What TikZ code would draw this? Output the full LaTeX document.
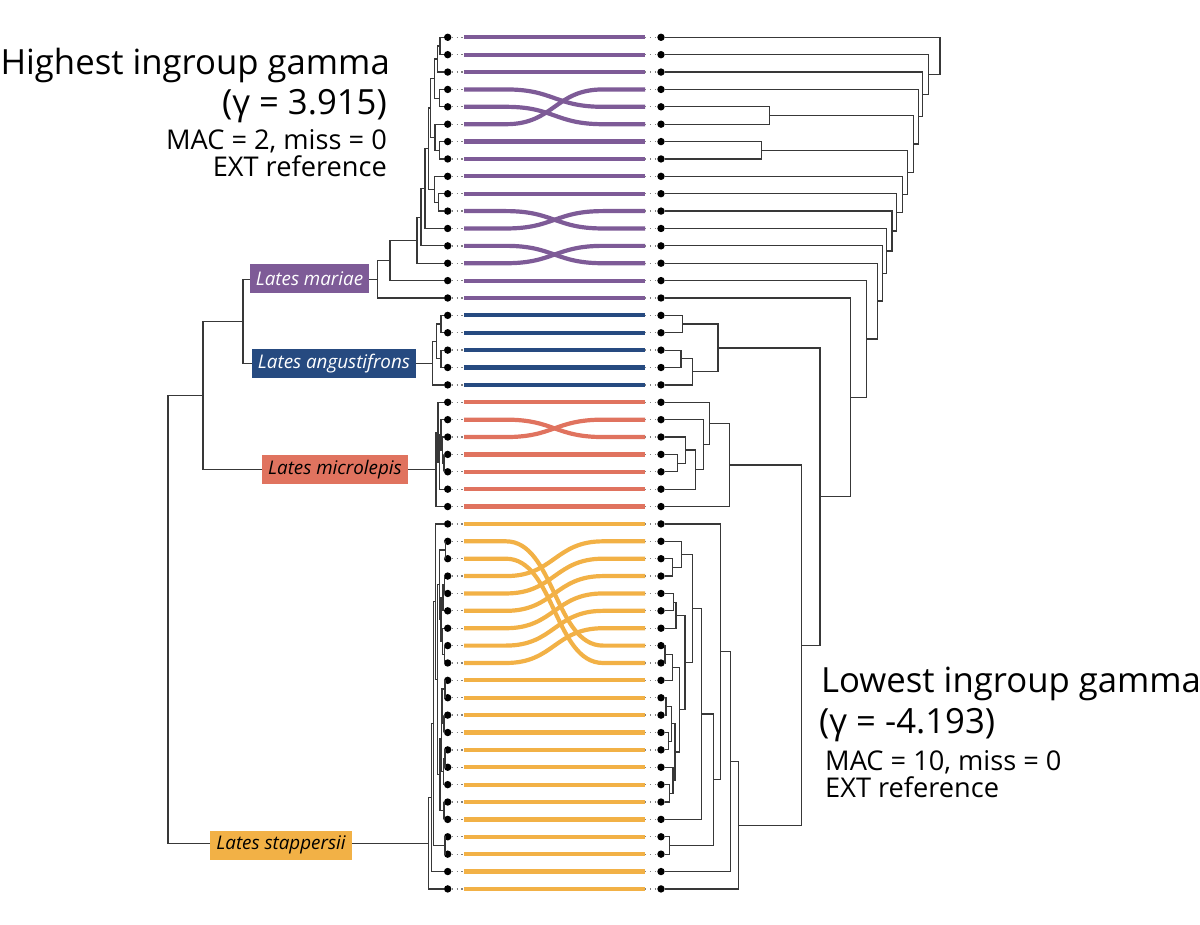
\documentclass[tikz,border=0pt]{standalone}
\usepackage{fontspec}
\setmainfont{Open Sans}
\usetikzlibrary{calc, positioning}
\definecolor{cpurple}{HTML}{7E5B97}
\definecolor{cblue}{HTML}{264A80}
\definecolor{cred}{HTML}{E0735F}
\definecolor{cyellow}{HTML}{F2B146}
\definecolor{cline}{HTML}{383838}
\tikzset{
  branch/.style={draw=cline, line width=1.2pt},
  tipdot/.style={circle, fill=black, inner sep=0pt, minimum size=7.4pt},
  tangle/.style={draw=#1, line width=4.2pt},
  linkdots/.style={draw=gray, line width=1.3pt, dash pattern=on 1.3pt off 3.6pt},
  clade/.style={fill=#1, text=white, font=\fontsize{18.8}{22}\selectfont\itshape, inner xsep=6pt, minimum height=29pt},
  headline/.style={font=\fontsize{34.7}{40}\selectfont, inner sep=0pt},
  subline/.style={font=\fontsize{27.2}{28}\selectfont, inner sep=0pt, text height=0.74em, text depth=0.12em},
}
% elbow join of two children at a given x
\newcommand\treejoin[4]{%
  \coordinate (jm) at ($(#3)!.5!(#4)$);
  \coordinate (jx) at (#2,0);
  \coordinate (#1) at (jx |- jm);
  \draw[branch] (#3) -| (#1) |- (#4);}

\begin{document}
\begin{tikzpicture}[x=1pt, y=-1pt]
  \useasboundingbox (0,0) rectangle (1200,925);
  % tips on both sides
  \foreach \i in {0,...,49} {
    \pgfmathsetmacro\ry{37.3+17.38*\i}
    \node[tipdot] (L\i) at (447.7,\ry) {};
    \node[tipdot] (R\i) at (661,\ry) {};
    \coordinate (Ta\i) at (464,\ry);
    \coordinate (Tb\i) at (645,\ry);
  }
  % tangle lines
  \foreach \i/\j/\c in {0/0/cpurple, 1/1/cpurple, 2/2/cpurple, 3/4/cpurple, 4/5/cpurple, 5/3/cpurple,
      6/6/cpurple, 7/7/cpurple, 8/8/cpurple, 9/9/cpurple, 10/11/cpurple, 11/10/cpurple, 12/13/cpurple,
      13/12/cpurple, 14/14/cpurple, 15/15/cpurple,
      16/16/cblue, 17/17/cblue, 18/18/cblue, 19/19/cblue, 20/20/cblue,
      21/21/cred, 22/23/cred, 23/22/cred, 24/24/cred, 25/25/cred, 26/26/cred, 27/27/cred,
      28/28/cyellow, 29/35/cyellow, 30/36/cyellow, 31/29/cyellow, 32/30/cyellow, 33/31/cyellow,
      34/32/cyellow, 35/33/cyellow, 36/34/cyellow, 37/37/cyellow, 38/38/cyellow, 39/39/cyellow,
      40/40/cyellow, 41/41/cyellow, 42/42/cyellow, 43/43/cyellow, 44/44/cyellow, 45/45/cyellow,
      46/46/cyellow, 47/47/cyellow, 48/48/cyellow, 49/49/cyellow} {
    \draw[linkdots] (L\i) -- (Ta\i);
    \draw[linkdots] (Tb\j) -- (R\j);
    \draw[tangle=\c] (Ta\i) -- ++(42,0) .. controls +(48,0) and +(-48,0) .. ($(Tb\j)+(-42,0)$) -- (Tb\j);
  }
  % left tree: mariae
  \treejoin{p01}{440}{L0}{L1}
  \treejoin{p012}{437.3}{p01}{L2}
  \treejoin{p34}{439.3}{L3}{L4}
  \treejoin{pA}{434.3}{p012}{p34}
  \treejoin{p67}{439.3}{L6}{L7}
  \treejoin{p567}{435}{L5}{p67}
  \treejoin{pB}{430.7}{pA}{p567}
  \treejoin{p910}{438.3}{L9}{L10}
  \treejoin{p8910}{434.3}{L8}{p910}
  \treejoin{pC}{428.3}{pB}{p8910}
  \treejoin{pD}{425}{pC}{L11}
  \treejoin{pE}{421}{pD}{L12}
  \treejoin{pF}{417}{pE}{L13}
  \treejoin{pG}{390}{pF}{L14}
  \treejoin{mar}{377.7}{pG}{L15}
  % angustifrons
  \treejoin{b01}{441}{L16}{L17}
  \treejoin{b23}{441}{L18}{L19}
  \treejoin{b03}{436.7}{b01}{b23}
  \treejoin{ang}{432.7}{b03}{L20}
  % microlepis
  \treejoin{r34}{444}{L24}{L25}
  \treejoin{r234}{442.5}{L23}{r34}
  \treejoin{r1234}{441}{L22}{r234}
  \treejoin{r12345}{439.5}{r1234}{L26}
  \treejoin{r0}{438}{L21}{r12345}
  \treejoin{mic}{436}{r0}{L27}
  % stappersii
  \treejoin{yA}{445.7}{L29}{L30}
  \treejoin{yB}{444.3}{L31}{L32}
  \treejoin{yC}{443}{yB}{L33}
  \treejoin{yD}{444.3}{L35}{L36}
  \treejoin{yE}{442.5}{L34}{yD}
  \treejoin{yF}{441}{yC}{yE}
  \treejoin{yG}{439.5}{yA}{yF}
  \treejoin{yH}{445}{L37}{L38}
  \treejoin{yI}{444}{L39}{L40}
  \treejoin{yJ}{442}{yH}{yI}
  \treejoin{yK}{445}{L41}{L42}
  \treejoin{yL}{443.5}{yK}{L43}
  \treejoin{yM}{441.5}{yJ}{yL}
  \treejoin{yN}{444}{L44}{L45}
  \treejoin{yO}{440}{yM}{yN}
  \treejoin{yX}{437.5}{yG}{yO}
  \treejoin{yW}{435.5}{L28}{yX}
  \treejoin{yP}{445}{L46}{L47}
  \treejoin{yV}{433.5}{yW}{yP}
  \treejoin{yU}{431.7}{yV}{L48}
  \treejoin{sta}{428.3}{yU}{L49}
  % left backbone
  \treejoin{o1}{243}{mar}{ang}
  \treejoin{o2}{203}{o1}{mic}
  \treejoin{root}{168}{o2}{sta}
  % right tree: blue and red clades
  \treejoin{c01}{682.7}{R16}{R17}
  \treejoin{c23}{681}{R18}{R19}
  \treejoin{c234}{692.3}{c23}{R20}
  \treejoin{cB}{718}{c01}{c234}
  \treejoin{d34}{677.3}{R24}{R25}
  \treejoin{d234}{685.3}{R23}{d34}
  \treejoin{d2345}{695.3}{d234}{R26}
  \treejoin{d1}{703.3}{R22}{d2345}
  \treejoin{d0}{709.3}{R21}{d1}
  \treejoin{dR}{729.3}{d0}{R27}
  % right tree: yellow clade
  \treejoin{e23}{672.3}{R30}{R31}
  \treejoin{eA}{681.7}{R29}{e23}
  \treejoin{e45}{673.3}{R32}{R33}
  \treejoin{e456}{676}{e45}{R34}
  \treejoin{e78}{665}{R35}{R36}
  \treejoin{e789}{672.3}{e78}{R37}
  \treejoin{e1011}{666}{R38}{R39}
  \treejoin{e1213}{668.5}{R40}{R41}
  \treejoin{eC}{671.5}{e1011}{e1213}
  \treejoin{e1516}{669.3}{R43}{R44}
  \treejoin{eD}{673}{R42}{e1516}
  \treejoin{eF}{675}{eC}{eD}
  \treejoin{eG}{679.3}{e789}{eF}
  \treejoin{eB}{685}{e456}{eG}
  \treejoin{eAB}{692.3}{eA}{eB}
  \treejoin{eH}{701.7}{eAB}{R45}
  \treejoin{e1819}{669.3}{R46}{R47}
  \treejoin{eI}{713.3}{eH}{e1819}
  \treejoin{eJ}{720.7}{R28}{eI}
  \treejoin{eK}{730.7}{eJ}{R48}
  \treejoin{eR}{738.3}{eK}{R49}
  % right tree: purple ladder
  \treejoin{dY}{801.7}{dR}{eR}
  \treejoin{cd}{820}{cB}{dY}
  \treejoin{q45}{769.3}{R4}{R5}
  \treejoin{q67}{761.3}{R6}{R7}
  \treejoin{q15}{850.7}{R15}{cd}
  \treejoin{q14}{866.7}{R14}{q15}
  \treejoin{q13}{877.7}{R13}{q14}
  \treejoin{q12}{882.3}{R12}{q13}
  \treejoin{q11}{886.7}{R11}{q12}
  \treejoin{q10}{892}{R10}{q11}
  \treejoin{q9}{896.7}{R9}{q10}
  \treejoin{q8}{902.3}{R8}{q9}
  \treejoin{q7}{907.3}{q67}{q8}
  \treejoin{q6}{913.3}{q45}{q7}
  \treejoin{q3}{918.7}{R3}{q6}
  \treejoin{q2}{922.7}{R2}{q3}
  \treejoin{q1}{928.7}{R1}{q2}
  \treejoin{q0}{940}{R0}{q1}
  % clade labels
  \node[clade=cpurple] (nmar) at (309.5,279) {Lates mariae};
  \node[clade=cblue] (nang) at (334,363.2) {Lates angustifrons};
  \node[clade=cred, text=black] (nmic) at (335,469.9) {Lates microlepis};
  \node[clade=cyellow, text=black] (nsta) at (281,845) {Lates stappersii};
  % headings
  \node[headline, anchor=base east] (hiname) at (390,75) {Highest ingroup gamma};
  \node[headline, anchor=base east] (hival) at (387,115) {(γ = 3.915)};
  \node[subline, anchor=base east] (himac) at (387,150) {MAC = 2, miss = 0};
  \node[subline, anchor=base east] (hiext) at (387,177) {EXT reference};
  \node[headline, anchor=base west] (loname) at (821,692) {Lowest ingroup gamma};
  \node[headline, anchor=base west] (loval) at (819,733) {(γ = -4.193)};
  \node[subline, anchor=base west] (lomac) at (825,770) {MAC = 10, miss = 0};
  \node[subline, anchor=base west] (loext) at (825,797) {EXT reference};
\end{tikzpicture}
\end{document}
